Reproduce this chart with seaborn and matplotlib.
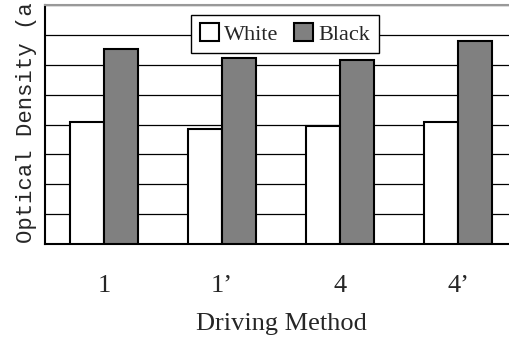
import matplotlib
matplotlib.use("Agg")
import matplotlib.pyplot as plt
import seaborn as sns
import pandas as pd

methods = ["1", "1\u2019", "4", "4\u2019"]
white = [4.08, 3.85, 3.95, 4.08]
black = [6.52, 6.22, 6.15, 6.79]

df = pd.DataFrame({
    "method": methods * 2,
    "od": white + black,
    "state": ["White"] * 4 + ["Black"] * 4,
})

sns.set_theme(style="white")
plt.rcParams['font.family'] = ['Liberation Serif', 'DejaVu Serif']

fig = plt.figure(figsize=(5.1, 3.37), dpi=100)
ax = fig.add_axes([45 / 510, 1 - 244 / 337, 472 / 510, 239 / 337])

sns.barplot(data=df, x="method", y="od", hue="state", order=methods,
            hue_order=["White", "Black"], palette=["white", "#808080"],
            edgecolor="black", linewidth=1.5, width=0.58, ax=ax, zorder=3)

ax.set_xlim(-0.5, 3.5)
ax.set_ylim(0, 8)
ax.set_yticks(range(9))
ax.set_yticklabels([])
ax.set_ylabel("")
ax.tick_params(axis="y", length=0)
ax.yaxis.grid(True, color="black", linewidth=0.9)
ax.set_axisbelow(True)

ax.tick_params(axis="x", which="major", length=0, labelsize=19, pad=22)
ax.set_xticks([0.5, 1.5, 2.5], minor=True)
ax.tick_params(axis="x", which="minor", direction="in", length=7,
               width=1, color="black")

for side in ["left", "bottom"]:
    ax.spines[side].set_color("black")
    ax.spines[side].set_linewidth(1.5)
ax.spines["top"].set_color("#999999")
ax.spines["top"].set_linewidth(1.5)
ax.spines["right"].set_visible(False)

ax.set_xlabel("Driving Method", fontsize=19, labelpad=12)

# the y label is cropped at the top edge in the source figure
fig.text(27 / 510, 1 - 243 / 337, "Optical Density (a", rotation=90,
         ha="center", va="bottom", fontsize=16,
         family=["Liberation Mono", "DejaVu Sans Mono"])

leg = ax.legend(loc="upper center", bbox_to_anchor=(285 / 510, 1 - 15 / 337),
                bbox_transform=fig.transFigure, ncol=2, fontsize=16,
                frameon=True, fancybox=False, edgecolor="black",
                handlelength=0.85, handleheight=0.85, handletextpad=0.25,
                columnspacing=0.7, borderpad=0.38, borderaxespad=0)
leg.get_frame().set_linewidth(1.0)
leg.get_frame().set_alpha(1)

fig.savefig("out.png", dpi=100)
